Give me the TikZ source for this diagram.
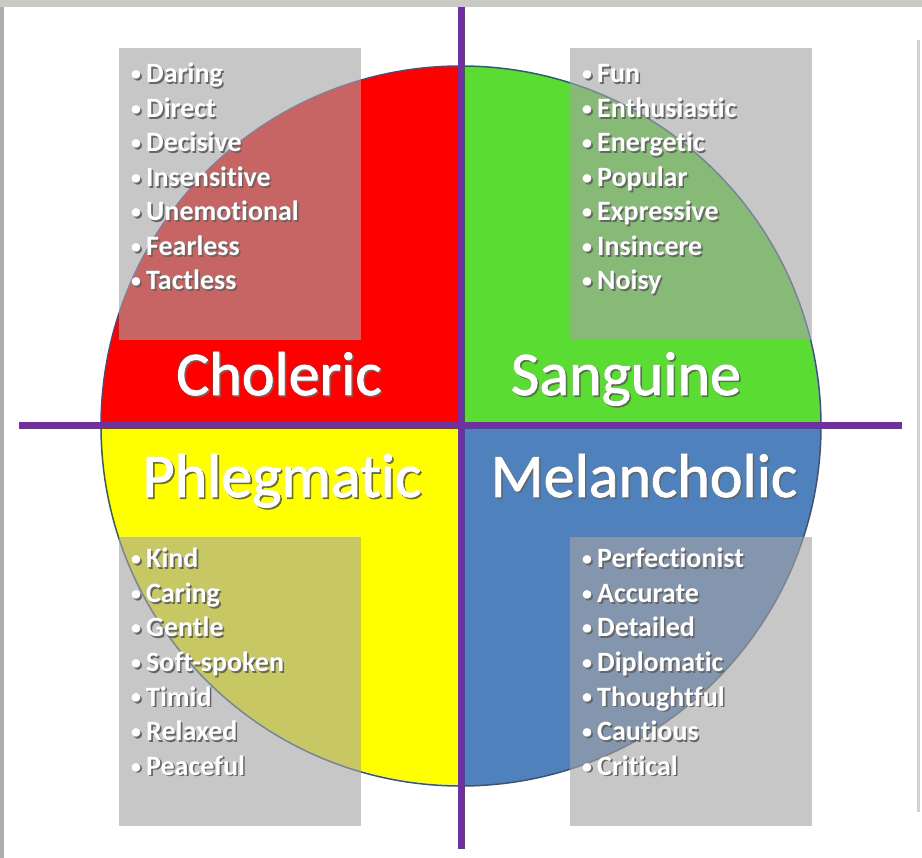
\documentclass[tikz,border=0pt]{standalone}
\usepackage{fontspec}
\setmainfont{Carlito}[Ligatures=NoCommon]
\newfontfamily\titlefont{Carlito}[Ligatures=NoCommon,FakeBold=1.3]
\usepackage{tikz}
\usetikzlibrary{positioning}

\definecolor{tpred}{RGB}{255,0,0}
\definecolor{tpgreen}{RGB}{90,220,50}
\definecolor{tpyellow}{RGB}{255,255,0}
\definecolor{tpblue}{RGB}{79,129,189}
\definecolor{tppurple}{RGB}{112,48,160}
\definecolor{tpbox}{RGB}{164,164,164}
\definecolor{tprim}{RGB}{55,85,130}
\definecolor{tpframe}{RGB}{200,202,195}

% white text with a small dark drop shadow
\newcommand{\shad}[1]{\makebox[0pt][l]{\hspace{1.6pt}\raisebox{-1.6pt}{\textcolor{black!60}{#1}}}#1}
\newcommand{\bul}{\makebox[15pt][l]{\fontsize{20}{20}\selectfont\raisebox{2pt}{•}}}

\begin{document}
\begin{tikzpicture}[x=1pt,y=-1pt,
  title/.style={text=white,font=\titlefont\fontsize{62}{62}\selectfont,inner sep=0pt,anchor=base},
  item/.style={text=white,font=\bfseries\fontsize{28}{28}\selectfont,inner sep=0pt,anchor=base west},
  traitbox/.style={fill=tpbox,fill opacity=0.61},
  divider/.style={draw=tppurple,line width=7pt}]
\useasboundingbox (0,0) rectangle (922,858);
\fill[white] (0,0) rectangle (922,858);
\fill[tpframe] (0,0) rectangle (922,7);
\fill[gray!65] (0,7) rectangle (3.5,858);
\fill[gray!35] (917,40) rectangle (920,812);

\coordinate (o) at (461,426);
\begin{scope}
\clip (o) circle[radius=360];
\fill[tpred] (o) rectangle ++(-360,-360);
\fill[tpgreen] (o) rectangle ++(360,-360);
\fill[tpyellow] (o) rectangle ++(-360,360);
\fill[tpblue] (o) rectangle ++(360,360);
\end{scope}
\draw[tprim,line width=1.5pt] (o) circle[radius=360];

% trait boxes
\fill[traitbox] (119,48) rectangle (361,340);
\fill[traitbox] (570,48) rectangle (812,340);
\fill[traitbox] (119,537) rectangle (361,826);
\fill[traitbox] (570,537) rectangle (812,826);

% axes
\coordinate (top) at (461,7);
\coordinate (bottom) at (461,849);
\coordinate (left) at (19,426);
\coordinate (right) at (902,426);
\draw[divider] (top) -- (bottom);
\draw[divider] (left) -- (right);

\node[title] (choleric) at (279,395) {\shad{Choleric}};
\node[title] (sanguine) at (626,395) {\shad{Sanguine}};
\node[title] (phlegmatic) at (282,497) {\shad{Phlegmatic}};
\node[title] (melancholic) at (644,497) {\shad{Melancholic}};

\foreach \w [count=\i] in {Daring,Direct,Decisive,Insensitive,Unemotional,Fearless,Tactless}
  \node[item] (chol-\i) at (131,83+34.5*\i-34.5) {\shad{\bul\w}};
\foreach \w [count=\i] in {Fun,Enthusiastic,Energetic,Popular,Expressive,Insincere,Noisy}
  \node[item] (sang-\i) at (582,83+34.5*\i-34.5) {\shad{\bul\w}};
\foreach \w [count=\i] in {Kind,Caring,Gentle,Soft-spoken,Timid,Relaxed,Peaceful}
  \node[item] (phleg-\i) at (131,568+34.5*\i-34.5) {\shad{\bul\w}};
\foreach \w [count=\i] in {Perfectionist,Accurate,Detailed,Diplomatic,Thoughtful,Cautious,Critical}
  \node[item] (mel-\i) at (582,568+34.5*\i-34.5) {\shad{\bul\w}};
\end{tikzpicture}
\end{document}
